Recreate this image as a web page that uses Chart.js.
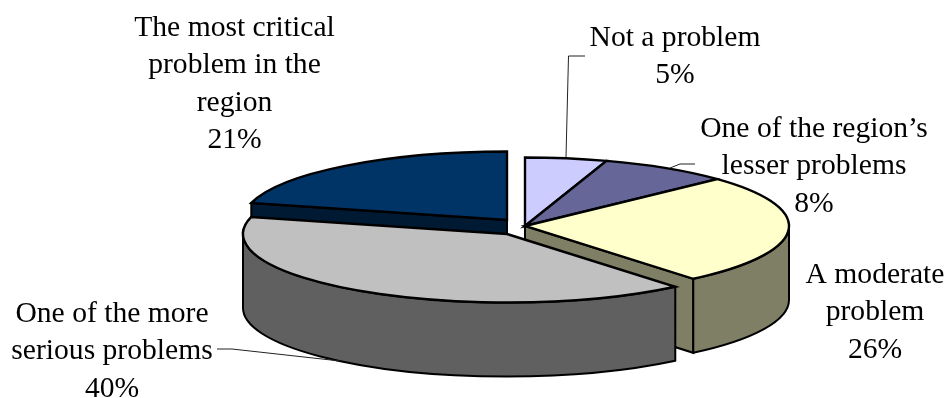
<!DOCTYPE html>
<html>
<head>
<meta charset="utf-8">
<title>How serious is the problem in the region</title>
<style>
  html, body { margin: 0; padding: 0; background: #fff; }
  canvas { display: block; }
</style>
<script src="https://cdn.jsdelivr.net/npm/chart.js@4"></script>
</head>
<body>
<canvas id="pie" width="948" height="398"></canvas>
<script>
// Survey answers, clockwise from twelve o'clock
const categories = [
  'Not a problem',
  'One of the region\u2019s lesser problems',
  'A moderate problem',
  'One of the more serious problems',
  'The most critical problem in the region'
];
const shares = [5, 8, 26, 40, 21];

// Wrapped category text for each outside label
const labelLines = [
  ['Not a problem'],
  ['One of the region\u2019s', 'lesser problems'],
  ['A moderate', 'problem'],
  ['One of the more', 'serious problems'],
  ['The most critical', 'problem in the', 'region']
];

const topColors = ['#CCCCFF', '#666699', '#FFFFCC', '#C0C0C0', '#003366'];
const sideColors = ['#66667F', '#33334D', '#7F7F66', '#606060', '#001A33'];

// Tilted disc proportions and how far each slice is pulled from the centre
const radiusX = 264, radiusY = 68.5, depth = 74;
const pullX = [51, 51, 51, 33, 33];
const pullY = [27, 27, 27, 35, 21];
const paintOrder = [4, 0, 1, 2, 3];

// Label anchors: centre x, first baseline
const labelX = [675, 814, 875, 112, 234.5];
const labelY = [46, 137, 283, 322, 36];
const lineStep = 37.4;

// Leader lines from label to slice
const leaders = [
  [[566, 157], [568.5, 56], [585, 56]],
  [[670, 168], [680, 164], [695, 164]],
  [[217, 349], [232, 349], [340, 361]]
];

const tiltedPie = {
  id: 'tiltedPie',
  beforeDatasetDraw(chart, args) {
    const arcs = chart.getDatasetMeta(args.index).data;
    const ctx = chart.ctx;
    ctx.lineJoin = 'miter';

    paintOrder.forEach(i => {
      const arc = arcs[i];
      const cx = arc.x + pullX[i];
      const cy = arc.y + pullY[i];
      const a0 = arc.startAngle;
      const a1 = arc.endAngle;
      const next = (i + 1) % arcs.length;
      const prev = (i + arcs.length - 1) % arcs.length;
      const sameAsNext = pullX[next] === pullX[i] && pullY[next] === pullY[i];
      const sameAsPrev = pullX[prev] === pullX[i] && pullY[prev] === pullY[i];

      ctx.fillStyle = sideColors[i];
      ctx.lineWidth = 2;
      ctx.strokeStyle = '#000';

      // Flat cut faces that turn toward the viewer
      const face = a => {
        const ex = cx + radiusX * Math.cos(a);
        const ey = cy + radiusY * Math.sin(a);
        ctx.beginPath();
        ctx.moveTo(cx, cy);
        ctx.lineTo(ex, ey);
        ctx.lineTo(ex, ey + depth);
        ctx.lineTo(cx, cy + depth);
        ctx.closePath();
        ctx.fill();
        ctx.stroke();
      };
      if (!sameAsPrev && Math.cos(a0) < -1e-6) face(a0);
      if (!sameAsNext && Math.cos(a1) > 1e-6) face(a1);

      // Curved rim on the near half of the disc
      const t0 = Math.max(a0, 0);
      const t1 = Math.min(a1, Math.PI);
      if (t1 > t0) {
        ctx.beginPath();
        ctx.ellipse(cx, cy, radiusX, radiusY, 0, t0, t1);
        ctx.ellipse(cx, cy + depth, radiusX, radiusY, 0, t1, t0, true);
        ctx.closePath();
        ctx.fill();
        ctx.stroke();
      }

      // Top face: the library's arc element under a squashing transform
      ctx.save();
      ctx.translate(cx, cy);
      ctx.scale(radiusX / arc.outerRadius, radiusY / arc.outerRadius);
      ctx.translate(-arc.x, -arc.y);
      arc.draw(ctx);
      ctx.restore();

      ctx.lineWidth = 2.4;
      ctx.strokeStyle = '#000';
      ctx.beginPath();
      ctx.moveTo(cx, cy);
      ctx.ellipse(cx, cy, radiusX, radiusY, 0, a0, a1);
      ctx.closePath();
      ctx.stroke();
    });
    return false;
  },
  afterDraw(chart) {
    const ctx = chart.ctx;
    ctx.save();
    ctx.strokeStyle = '#222';
    ctx.lineWidth = 1;
    leaders.forEach(path => {
      ctx.beginPath();
      path.forEach(([x, y], k) => k ? ctx.lineTo(x, y) : ctx.moveTo(x, y));
      ctx.stroke();
    });
    ctx.fillStyle = '#000';
    ctx.font = '29.6px "Liberation Serif"';
    ctx.textAlign = 'center';
    ctx.textBaseline = 'alphabetic';
    labelLines.forEach((lines, i) => {
      lines.forEach((line, k) => ctx.fillText(line, labelX[i], labelY[i] + k * lineStep));
      ctx.fillText(shares[i] + '%', labelX[i], labelY[i] + lines.length * lineStep);
    });
    ctx.restore();
  }
};

new Chart(document.getElementById('pie'), {
  type: 'pie',
  data: {
    labels: categories,
    datasets: [{
      data: shares,
      backgroundColor: topColors,
      borderWidth: 0
    }]
  },
  options: {
    responsive: false,
    animation: false,
    plugins: { legend: { display: false }, tooltip: { enabled: false } }
  },
  plugins: [tiltedPie]
});
</script>
</body>
</html>
